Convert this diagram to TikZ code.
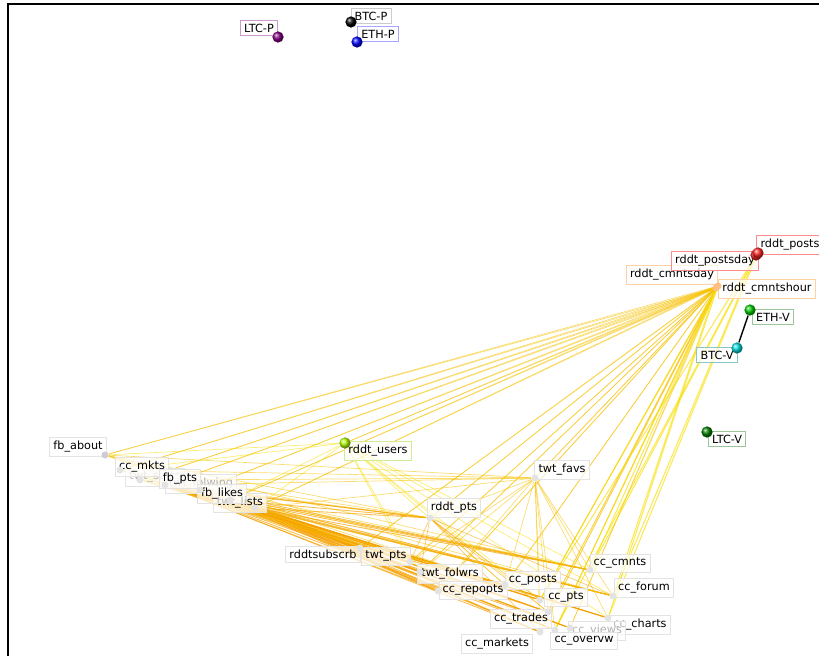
\documentclass[tikz,border=0pt]{standalone}
\usepackage{fontspec}
\setmainfont{DejaVu Sans}
\usetikzlibrary{backgrounds}
\definecolor{yel}{RGB}{248,222,0}
\definecolor{hubcol}{RGB}{246,192,0}
\definecolor{org}{RGB}{245,160,0}
\tikzset{
  vtx/.style={circle,inner sep=0pt,minimum size=8pt,shading=ball,ball color=#1},
  gvtx/.style={circle,inner sep=0pt,minimum size=5pt,fill=gray!22},
  lbl/.style={draw=#1,fill=white,fill opacity=0.72,text opacity=1,inner sep=2.6pt,
    line width=0.6pt,font=\fontsize{8}{9}\selectfont},
  lbl/.default=gray!22,
  faded/.style={lbl,text=gray!60},
  link/.style={draw=#1,line width=0.5pt,draw opacity=0.55}
}

\begin{document}
\begin{tikzpicture}[x=0.025cm,y=-0.025cm]
    \useasboundingbox (0,0) rectangle (819,656);
    \clip (0,0) rectangle (819,656);

    % labels
    \node [lbl=violet!40] (ltcp-l) at (259,28) {LTC-P};
    \node [lbl=gray!40] (btcp-l) at (371,16) {BTC-P};
    \node [lbl=blue!35] (ethp-l) at (378,34) {ETH-P};
    \node [lbl=red!45] (rp-l) at (790,245) {rddt\_posts};
    \node [lbl=orange!35] (rcd-l) at (672,275) {rddt\_cmntsday};
    \node [lbl=red!45] (rpd-l) at (715,261) {rddt\_postsday};
    \node [lbl=orange!35] (rch-l) at (767,289) {rddt\_cmntshour};
    \node [lbl=green!45!black!40] (ethv-l) at (773,317) {ETH-V};
    \node [lbl=teal!45] (btcv-l) at (717,355) {BTC-V};
    \node [lbl=green!45!black!40] (ltcv-l) at (727,439) {LTC-V};
    \node [lbl=yellow!60!green!45] (rus-l) at (378,451) {rddt\_users};
    \node [lbl] (twf-l) at (562,470) {twt\_favs};
    \node [lbl] (rpt-l) at (454,508) {rddt\_pts};
    \node [lbl] (fba-l) at (78,447) {fb\_about};
    \node [faded] (tws-l) at (155,477) {twt\_stats};
    \node [lbl] (ccm-l) at (142,467) {cc\_mkts};
    \node [faded] (twfg-l) at (201,484) {twt\_folwing};
    \node [lbl] (fbp-l) at (180,479) {fb\_pts};
    \node [lbl] (twl-l) at (240,503) {twt\_lists};
    \node [lbl] (fbl-l) at (222,494) {fb\_likes};
    \node [lbl] (rsub-l) at (323,554) {rddtsubscrb};
    \node [lbl] (twpt-l) at (386,556) {twt\_pts};
    \node [lbl] (twfr-l) at (450,574) {twt\_folwrs};
    \node [lbl] (ccrp-l) at (473,590) {cc\_repopts};
    \node [lbl] (ccpo-l) at (533,580) {cc\_posts};
    \node [lbl] (ccpt-l) at (566,597) {cc\_pts};
    \node [lbl] (ccc-l) at (620,563) {cc\_cmnts};
    \node [lbl] (ccf-l) at (644,588) {cc\_forum};
    \node [lbl] (cch-l) at (640,625) {cc\_charts};
    \node [lbl] (cct-l) at (521,619) {cc\_trades};
    \node [faded] (ccv-l) at (597,631) {cc\_views};
    \node [lbl] (cco-l) at (584,641) {cc\_overvw};
    \node [lbl] (ccmk-l) at (497,644) {cc\_markets};

    % dots
    \node [vtx=violet] (ltcp) at (278,37) {};
    \node [vtx=black] (btcp) at (351,22) {};
    \node [vtx=blue] (ethp) at (357,42) {};
    \node [gvtx,fill=orange!50] (rcd) at (716,288) {};
    \node [gvtx,fill=orange!50] (rch) at (718,286) {};
    \node [vtx=red!85] (rpd) at (756,255) {};
    \node [vtx=red!85] (rp) at (758,253) {};
    \node [vtx=green!80!black] (ethv) at (750,310) {};
    \node [vtx=cyan!70!teal] (btcv) at (737,348) {};
    \node [vtx=green!50!black] (ltcv) at (707,432) {};
    \node [vtx=yellow!70!green] (rus) at (345,443) {};
    \node [gvtx] (twf) at (535,478) {};
    \node [gvtx] (rpt) at (430,518) {};
    \node [gvtx,fill=blue!15!gray!35] (fba) at (105,455) {};
    \node [gvtx] (ccm) at (120,470) {};
    \node [gvtx] (tws) at (140,480) {};
    \node [gvtx] (fbp) at (165,485) {};
    \node [gvtx] (twfg) at (200,490) {};
    \node [gvtx] (fbl) at (230,500) {};
    \node [gvtx] (twl) at (255,508) {};
    \node [gvtx] (rsub) at (360,548) {};
    \node [gvtx] (twpt) at (410,562) {};
    \node [gvtx] (twfr) at (420,572) {};
    \node [gvtx] (ccrp) at (438,591) {};
    \node [gvtx] (ccpo) at (505,585) {};
    \node [gvtx] (ccpt) at (540,600) {};
    \node [gvtx] (ccc) at (590,570) {};
    \node [gvtx] (ccf) at (613,596) {};
    \node [gvtx] (cch) at (608,618) {};
    \node [gvtx] (cct) at (548,612) {};
    \node [gvtx] (ccv) at (570,628) {};
    \node [gvtx] (cco) at (555,630) {};
    \node [gvtx] (ccmk) at (540,632) {};

    \begin{pgfonlayer}{background}
    \foreach \a in {rcd,rch}
      \foreach \b in {fba,ccm,tws,fbp,twfg,fbl,twl,rus,twf,rpt,rsub,twpt,twfr,ccrp,ccpo,ccpt,cct,ccv,cco,ccmk}
        \draw [link=hubcol] (\a) -- (\b);
    \foreach \a in {rcd,rch,rp,rpd}
      \foreach \b in {ccc,ccf,cch,ccpt,cco}
        \draw [link=yel] (\a) -- (\b);
    \foreach \a in {fbp,twfg,fbl,twl}
      \foreach \b in {rsub,twpt,twfr,ccrp,ccpo,ccpt,ccc,ccf,cch,cct,ccv,cco,ccmk,rpt}
        \draw [link=org,line width=0.6pt,draw opacity=0.7] (\a) -- (\b);
    \foreach \a in {fba,ccm,tws}
      \foreach \b in {twf,rpt,ccpo,ccc,ccf,twpt}
        \draw [link=hubcol] (\a) -- (\b);
    \foreach \b in {fba,ccm,fbl,twl,twpt,twfr,ccpo,ccpt,ccc,ccf,cch,cct}
      \draw [link=yel] (rus) -- (\b);
    \foreach \b in {fbp,twl,rpt,twpt,twfr,ccrp,ccpo,ccpt,ccc,ccf,cch,cct,cco,ccmk}
      \draw [link=hubcol] (twf) -- (\b);
    \foreach \b in {twpt,twfr,ccpo,ccpt,ccf,cct,ccmk}
      \draw [link=org] (rpt) -- (\b);
    \end{pgfonlayer}
    \draw [line width=1pt] (ethv) -- (btcv);

    % frame
    \draw [line width=2pt] (8,656) -- (8,4) -- (819,4);
\end{tikzpicture}
\end{document}
